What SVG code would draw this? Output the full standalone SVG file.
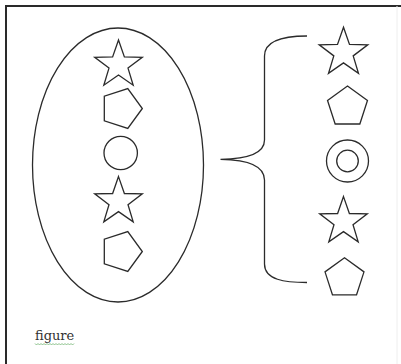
<svg xmlns="http://www.w3.org/2000/svg" xmlns:xlink="http://www.w3.org/1999/xlink" width="401" height="364" viewBox="0 0 401 364">
<style>
.sh{fill:none;stroke:#2b2b2b;stroke-width:1.3;stroke-linejoin:miter}
.frame{fill:none;stroke:#2a2a2a;stroke-width:2}
.lbl{font-family:"DejaVu Serif","Liberation Serif",serif;font-size:13px;fill:#333}
</style>
<defs>
<path id="star" d="M0,-25 L5.88,-8.09 L23.78,-7.73 L9.51,3.09 L14.69,20.23 L0,10 L-14.69,20.23 L-9.51,3.09 L-23.78,-7.73 L-5.88,-8.09 Z"/>
<path id="pentUp" d="M0,-21 L19.97,-6.49 L12.34,16.99 L-12.34,16.99 L-19.97,-6.49 Z"/>
<path id="pentRight" d="M21,0 L6.49,19.97 L-16.99,12.34 L-16.99,-12.34 L6.49,-19.97 Z"/>
</defs>
<rect width="401" height="364" fill="#fff"/>
<g id="frame">
<path class="frame" d="M6,364 L6,6 L401,6"/>
<line x1="397" y1="6" x2="397" y2="364" stroke="#eeeeee" stroke-width="1"/>
</g>
<g id="left-group">
<ellipse class="sh" cx="118" cy="165" rx="85.5" ry="137"/>
</g>
<g id="left-star-1"><use href="#star" class="sh" transform="translate(118.5,65)"/></g>
<g id="left-pentagon-1"><use href="#pentRight" class="sh" transform="translate(121.3,108.5)"/></g>
<g id="left-circle"><circle class="sh" cx="120.7" cy="153" r="16.7"/></g>
<g id="left-star-2"><use href="#star" class="sh" transform="translate(118.5,201.6)"/></g>
<g id="left-pentagon-2"><use href="#pentRight" class="sh" transform="translate(121.3,251.5)"/></g>
<g id="connectors">
<path class="sh" d="M307,36 C285,36 264.5,40 264.5,56 L264.5,140 C264.5,155 245,159 220.5,159.3 C245,159.6 264.5,164 264.5,180 L264.5,264 C264.5,280 285,282.5 307,282.5"/>
</g>
<g id="right-star-1"><use href="#star" class="sh" transform="translate(343.5,52.7) scale(1.02)"/></g>
<g id="right-pentagon-1"><use href="#pentUp" class="sh" transform="translate(347.5,107)"/></g>
<g id="right-double-circle">
<circle class="sh" cx="347.5" cy="161" r="21"/>
<circle class="sh" cx="347.5" cy="161" r="10.8"/>
</g>
<g id="right-star-2"><use href="#star" class="sh" transform="translate(343.5,221.6)"/></g>
<g id="right-pentagon-2"><use href="#pentUp" class="sh" transform="translate(344.5,278.2) scale(0.976)"/></g>
<g id="caption">
<text class="lbl" x="35" y="340">figure</text>
<path d="M35,343.5 l1.5,1.5 l1.5,-1.5 l1.5,1.5 l1.5,-1.5 l1.5,1.5 l1.5,-1.5 l1.5,1.5 l1.5,-1.5 l1.5,1.5 l1.5,-1.5 l1.5,1.5 l1.5,-1.5 l1.5,1.5 l1.5,-1.5 l1.5,1.5 l1.5,-1.5 l1.5,1.5 l1.5,-1.5 l1.5,1.5 l1.5,-1.5 l1.5,1.5 l1.5,-1.5 l1.5,1.5 l1.5,-1.5 l1.5,1.5 l1.5,-1.5" fill="none" stroke="#6fb36f" stroke-width="0.8"/>
</g>
</svg>
